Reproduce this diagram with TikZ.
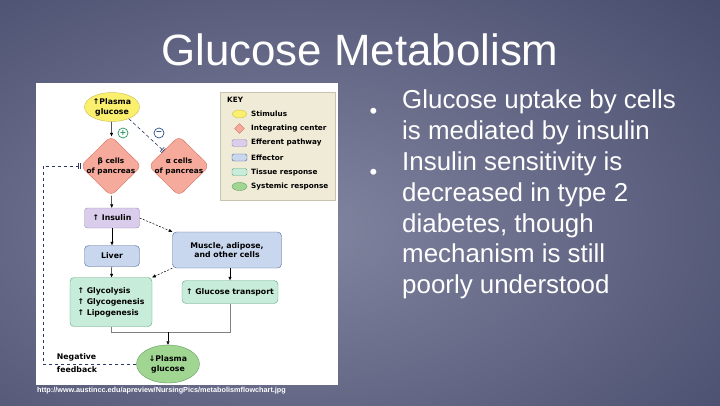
\documentclass[tikz,border=0pt]{standalone}
\usepackage{fontspec}
\setmainfont{Liberation Sans}
\newfontfamily\dgfont{DejaVu Sans}
\usetikzlibrary{shapes.geometric,arrows.meta,positioning}

\definecolor{bgIn}{RGB}{130,133,160}
\definecolor{bgOut}{RGB}{44,49,84}
\definecolor{stimF}{RGB}{250,240,110}
\definecolor{stimD}{RGB}{205,190,70}
\definecolor{intF}{RGB}{246,170,155}
\definecolor{intD}{RGB}{215,115,100}
\definecolor{effpF}{RGB}{218,205,235}
\definecolor{effpD}{RGB}{160,140,190}
\definecolor{efctF}{RGB}{200,214,238}
\definecolor{efctD}{RGB}{80,100,150}
\definecolor{tissF}{RGB}{200,236,218}
\definecolor{tissD}{RGB}{90,165,130}
\definecolor{systF}{RGB}{160,214,145}
\definecolor{systD}{RGB}{95,160,95}
\definecolor{keyF}{RGB}{240,235,215}
\definecolor{keyD}{RGB}{200,195,175}
\definecolor{fbC}{RGB}{40,55,100}
\definecolor{plusC}{RGB}{40,150,100}
\definecolor{minusC}{RGB}{40,80,140}

\tikzset{
    dg/.style={font=\dgfont\bfseries\fontsize{7.8}{10}\selectfont, align=center, inner sep=1bp},
    kt/.style={font=\dgfont\bfseries\fontsize{7.3}{9}\selectfont, anchor=west, inner sep=0},
    stim/.style={dg, ellipse, draw=stimD, fill=stimF, minimum width=55bp, minimum height=29bp, inner sep=0},
    integ/.style={diamond, draw=intD, fill=intF, rounded corners=6bp, minimum width=61bp, minimum height=60bp, inner sep=0},
    effp/.style={dg, rectangle, rounded corners=3bp, draw=effpD, fill=effpF, minimum width=55bp, minimum height=20bp},
    efct/.style={dg, rectangle, rounded corners=4bp, draw=efctD, fill=efctF},
    tiss/.style={dg, rectangle, rounded corners=4bp, draw=tissD, fill=tissF},
    syst/.style={dg, ellipse, draw=systD, fill=systF, minimum width=63bp, minimum height=38bp, inner sep=0},
    sign/.style={circle, draw, line width=0.7bp, minimum size=10bp, inner sep=0, font=\dgfont\bfseries\fontsize{8}{8}\selectfont},
    ar/.style={-{Triangle[length=3.5bp,width=3bp]}, line width=0.5bp, draw=black},
    fb/.style={draw=fbC, line width=0.6bp, dash pattern=on 3.5bp off 2.5bp, -{Bar[width=6bp,sep=1.2bp]Bar[width=6bp]}},
    bul/.style={text=white, font=\fontsize{26}{31}\selectfont, inner sep=0},
}

\begin{document}
\begin{tikzpicture}[x=1bp,y=-1bp]
                \useasboundingbox (0,0) rectangle (720,405);
                \begin{scope}
                    \clip (0,0) rectangle (720,405);
                    \shade[inner color=bgIn, outer color=bgOut] (-540,-270) rectangle (1140,730);
                \end{scope}
                \node[text=white, font=\fontsize{44}{50}\selectfont, anchor=base, inner sep=0] (H) at (360,65) {Glucose Metabolism};
                \fill[white] (36,83) rectangle (338,385);
                \node[stim] (G) at (112,107) {↑Plasma\\glucose};
                \node[integ] (B) at (111,166) {};
                \node[integ] (A) at (179,166) {};
                \node[dg, font=\dgfont\bfseries\fontsize{7.4}{10}\selectfont] (Bt) at (111,166) {β cells\\of pancreas};
                \node[dg, font=\dgfont\bfseries\fontsize{7.4}{10}\selectfont] (At) at (179,166) {α cells\\of pancreas};
                \node[sign, draw=plusC, text=plusC] (Sp) at (123,133) {+};
                \node[sign, draw=minusC, text=minusC] (Sm) at (159,133) {−};
                \node[effp] (I) at (112,218) {↑ Insulin};
                \node[efct, minimum width=55bp, minimum height=21bp] (L) at (112,256) {Liver};
                \node[efct, minimum width=109bp, minimum height=36bp, font=\dgfont\bfseries\fontsize{7.8}{9.5}\selectfont] (M) at (227,250) {Muscle, adipose,\\and other cells};
                \node[tiss, minimum width=82bp, minimum height=49bp, align=left, font=\dgfont\bfseries\fontsize{7.8}{11}\selectfont] (Y) at (111,302) {↑ Glycolysis\\↑ Glycogenesis\\↑ Lipogenesis};
                \node[tiss, minimum width=96bp, minimum height=23bp] (T) at (230,292) {↑ Glucose transport};
                \node[syst] (P) at (168,364) {↓Plasma\\glucose};
                \coordinate (J) at (168,332);
                \coordinate (F) at (43,364);
                \node[dg, align=left, font=\dgfont\bfseries\fontsize{7.8}{13}\selectfont] (N) at (77,363.5) {Negative\\feedback};
                \draw[ar] (G) -- (B);
                \draw[ar] (B) -- (I);
                \draw[ar] (I) -- (L);
                \draw[ar] (L) -- (Y);
                \draw[ar, dash pattern=on 2bp off 1.5bp] (I.east) -- (M.north west);
                \draw[ar, dash pattern=on 2bp off 1.5bp] (M.south west) -- (Y.north east);
                \draw[ar] (M.south -| T.north) -- (T.north);
                \draw[line width=0.5bp, draw=gray] (Y.south) |- (J) -| (T.south);
                \draw[ar] (J) -- (P.north);
                \draw[fb] (G.-35) -- (A.north west);
                \draw[fb] (P.west) -- (F) |- (B.west);
                \draw[draw=keyD, fill=keyF] (220,92) rectangle (335,200);
                \node[kt] (K) at (227,99.5) {KEY};
                \node[ellipse, draw=stimD, fill=stimF, minimum width=14bp, minimum height=8bp, inner sep=0] (K1) at (239.5,114) {};
                \node[diamond, draw=intD, fill=intF, minimum width=10bp, minimum height=10bp, inner sep=0] (K2) at (239.5,128.5) {};
                \node[rectangle, rounded corners=1.5bp, draw=effpD, fill=effpF, minimum width=15bp, minimum height=7bp, inner sep=0] (K3) at (239.5,143) {};
                \node[rectangle, rounded corners=1.5bp, draw=efctD, fill=efctF, minimum width=15bp, minimum height=7bp, inner sep=0] (K4) at (239.5,157.5) {};
                \node[rectangle, rounded corners=1.5bp, draw=tissD, fill=tissF, minimum width=15bp, minimum height=7bp, inner sep=0] (K5) at (239.5,172) {};
                \node[ellipse, draw=systD, fill=systF, minimum width=15bp, minimum height=8bp, inner sep=0] (K6) at (239.5,186.5) {};
                \node[kt] (K1t) at (251,114) {Stimulus};
                \node[kt] (K2t) at (251,128.5) {Integrating center};
                \node[kt] (K3t) at (251,143) {Efferent pathway};
                \node[kt] (K4t) at (251,157.5) {Effector};
                \node[kt] (K5t) at (251,172) {Tissue response};
                \node[kt] (K6t) at (251,186.5) {Systemic response};
                \node[text=white, font=\bfseries\fontsize{7.3}{8}\selectfont, anchor=west, inner sep=0] (U) at (37,391) {http://www.austincc.edu/apreview/NursingPics/metabolismflowchart.jpg};
                \node[bul, font=\fontsize{22}{22}\selectfont, anchor=base] (b1) at (373.5,118) {•};
                \node[bul, font=\fontsize{22}{22}\selectfont, anchor=base] (b2) at (373.5,179.5) {•};
                \node[bul, anchor=base west] (l1) at (402,108) {Glucose uptake by cells};
                \node[bul, anchor=base west] (l2) at (402,139) {is mediated by insulin};
                \node[bul, anchor=base west] (l3) at (402,170) {Insulin sensitivity is};
                \node[bul, anchor=base west] (l4) at (402,201) {decreased in type 2};
                \node[bul, anchor=base west] (l5) at (402,232) {diabetes, though};
                \node[bul, anchor=base west] (l6) at (402,262) {mechanism is still};
                \node[bul, anchor=base west] (l7) at (402,293) {poorly understood};
\end{tikzpicture}
\end{document}
